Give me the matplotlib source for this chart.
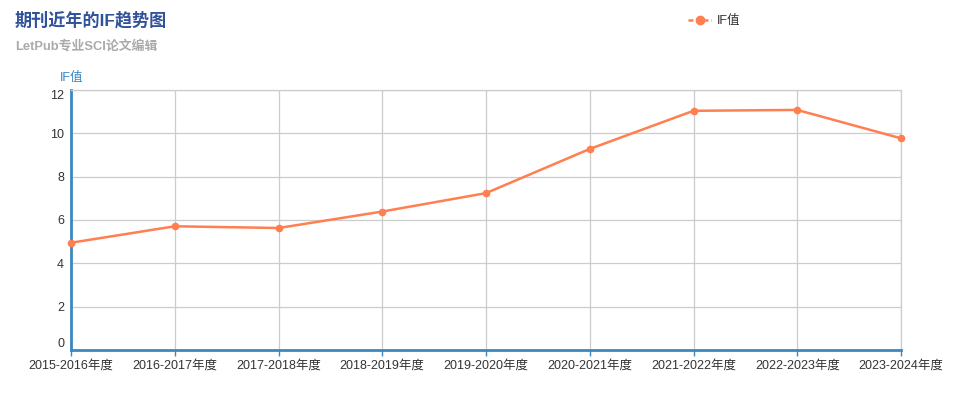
import matplotlib.pyplot as plt
from matplotlib.lines import Line2D

plt.rcParams['font.family'] = ['Liberation Sans', 'Noto Sans CJK SC', 'DejaVu Sans']

years = ['2015-2016年度', '2016-2017年度', '2017-2018年度', '2018-2019年度',
         '2019-2020年度', '2020-2021年度', '2021-2022年度', '2022-2023年度',
         '2023-2024年度']
if_values = [4.95, 5.71, 5.63, 6.39, 7.24, 9.28, 11.04, 11.08, 9.77]
y_ticks = [0, 2, 4, 6, 8, 10, 12]

line_color = '#ff7f50'
axis_color = '#3c87c0'

fig = plt.figure(figsize=(9.57, 3.93), dpi=100)
ax = fig.add_axes([71 / 957, 43 / 393, 830 / 957, 260 / 393])

x = range(len(years))
ax.plot(x, if_values, color=line_color, lw=1.8, marker='o', ms=4.5,
        clip_on=False, zorder=3)

ax.set_xlim(0, len(years) - 1)
ax.set_ylim(0, 12)
ax.set_xticks(list(x))
ax.set_xticklabels(years, fontsize=9, color='#333333')
ax.set_yticks(y_ticks)
ax.set_yticklabels([str(v) for v in y_ticks], fontsize=9, color='#333333')
# first and last y labels sit inside the range, like the original
ylabels = ax.get_yticklabels()
ylabels[0].set_va('bottom')
ylabels[-1].set_va('top')

ax.grid(True, color='#cccccc', lw=0.9)
ax.set_axisbelow(True)
for side in ['top', 'right']:
    ax.spines[side].set_color('#cccccc')
    ax.spines[side].set_linewidth(0.9)
ax.spines['left'].set_color(axis_color)
ax.spines['left'].set_linewidth(2)
ax.spines['bottom'].set_color(axis_color)
ax.spines['bottom'].set_linewidth(2)
ax.tick_params(axis='y', length=0, pad=5)
ax.tick_params(axis='x', length=4, width=1, color=axis_color, pad=3)

fig.text(60 / 957, 1 - 78 / 393, 'IF值', fontsize=9, color=axis_color,
         va='center', ha='left')

fig.text(15 / 957, 1 - 20 / 393, '期刊近年的IF趋势图', fontsize=12.3,
         fontweight='bold', color='#30529a', va='center', ha='left')
fig.text(15 / 957, 1 - 46 / 393, 'LetPub专业SCI论文编辑', fontsize=9.3,
         fontweight='bold', color='#aaaaaa', va='center', ha='left')

handle = Line2D([], [], color=line_color, lw=1.8, marker='o', ms=6,
                ls=(0, (2, 1)))
fig.legend([handle], ['IF值'], loc='center left',
           bbox_to_anchor=(677 / 957, 1 - 21 / 393), frameon=False,
           fontsize=9, handlelength=1.8, handletextpad=0.5,
           labelcolor='#333333')

fig.savefig('out.png', dpi=100)
